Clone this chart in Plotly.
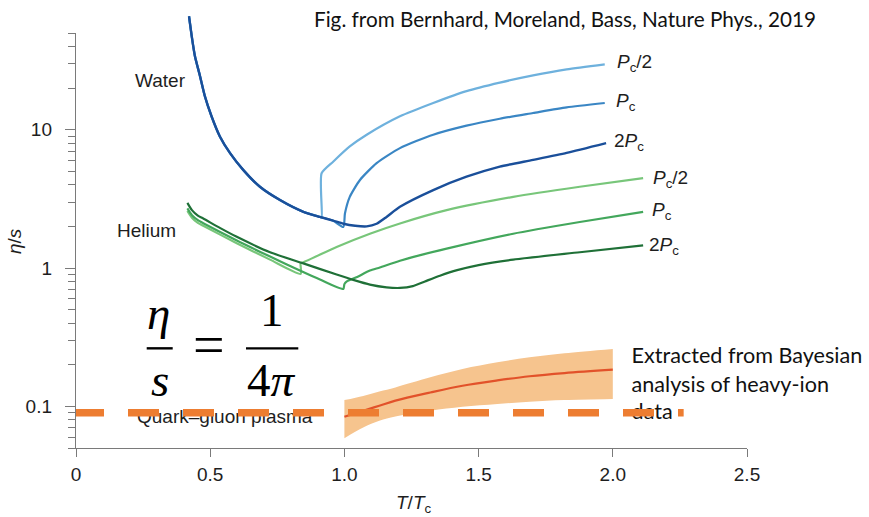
import math
import plotly.graph_objects as go

# ---------------- data ----------------
# Water: shared steep descent, then three branches
water_descent_T = [0.421, 0.431, 0.443, 0.462, 0.480, 0.505, 0.536, 0.574, 0.623, 0.685, 0.760, 0.847, 0.909]
water_descent_eta = [66.1, 47.7, 34.1, 24.4, 17.5, 12.5, 8.94, 6.77, 5.12, 3.87, 3.10, 2.55, 2.34]

water_half_T = [0.915, 0.915, 0.958, 1.020, 1.083, 1.207, 1.331, 1.455, 1.579, 1.703, 1.828, 1.970]
water_half_eta = [2.32, 4.84, 5.87, 7.57, 9.20, 12.5, 15.6, 19.0, 21.9, 24.7, 27.3, 29.7]

water_pc_T = [0.958, 0.996, 1.002, 1.020, 1.058, 1.120, 1.207, 1.331, 1.455, 1.579, 1.703, 1.828, 1.970]
water_pc_eta = [2.20, 1.98, 2.48, 3.27, 4.33, 5.73, 7.36, 9.20, 10.7, 12.0, 13.2, 14.5, 15.6]

water_2pc_T = [0.958, 0.996, 1.040, 1.083, 1.120, 1.157, 1.207, 1.331, 1.455, 1.579, 1.703, 1.828, 1.975]
water_2pc_eta = [2.20, 2.09, 2.02, 2.00, 2.09, 2.34, 2.77, 3.66, 4.57, 5.41, 6.05, 6.80, 8.00]

# Helium
helium_half_T = [0.415, 0.432, 0.454, 0.474, 0.599, 0.723, 0.837, 0.837, 0.847, 0.971, 1.095, 1.207, 1.381, 1.629, 1.877, 2.113]
helium_half_eta = [2.59, 2.31, 2.12, 2.02, 1.51, 1.15, 0.908, 1.09, 1.10, 1.42, 1.77, 2.10, 2.62, 3.27, 3.87, 4.46]

helium_pc_T = [0.415, 0.432, 0.454, 0.474, 0.599, 0.723, 0.834, 0.909, 0.996, 1.000, 1.008, 1.045, 1.095, 1.132, 1.207, 1.381, 1.629, 1.877, 2.113]
helium_pc_eta = [2.70, 2.41, 2.22, 2.11, 1.58, 1.21, 0.959, 0.825, 0.706, 0.765, 0.798, 0.857, 0.959, 1.01, 1.13, 1.38, 1.77, 2.15, 2.55]

helium_2pc_T = [0.415, 0.432, 0.454, 0.474, 0.536, 0.599, 0.723, 0.847, 0.971, 1.033, 1.095, 1.157, 1.207, 1.255, 1.300, 1.356, 1.420, 1.500, 1.629, 1.877, 2.113]
helium_2pc_eta = [2.96, 2.62, 2.39, 2.28, 1.95, 1.68, 1.30, 1.08, 0.897, 0.821, 0.759, 0.725, 0.718, 0.740, 0.800, 0.880, 0.965, 1.05, 1.15, 1.30, 1.46]

# Quark-gluon plasma (Bayesian extraction band)
qgp_T = [1.0, 1.07, 1.13, 1.19, 1.32, 1.44, 1.57, 1.69, 1.82, 2.0]
qgp_upper = [0.111, 0.119, 0.128, 0.137, 0.162, 0.186, 0.208, 0.226, 0.242, 0.260]
qgp_mid = [0.0841, 0.0929, 0.101, 0.110, 0.126, 0.141, 0.154, 0.165, 0.174, 0.184]
qgp_lower = [0.0589, 0.0703, 0.0786, 0.0845, 0.0929, 0.0993, 0.104, 0.108, 0.111, 0.113]

# KSS bound line (as drawn)
kss_T = [0.0, 2.264]
kss_eta = [0.09, 0.09]

x_tickvals = [0, 0.5, 1.0, 1.5, 2.0, 2.5]
x_ticktext = ["0", "0.5", "1.0", "1.5", "2.0", "2.5"]
y_tickvals = [0.1, 1, 10]
y_ticktext = ["0.1", "1", "10"]
y_minorvals = [0.05, 0.06, 0.07, 0.08, 0.09, 0.2, 0.3, 0.4, 0.5, 0.6, 0.7, 0.8, 0.9,
               2, 3, 4, 5, 6, 7, 8, 9, 20, 30, 40, 50]

# ---------------- styles ----------------
C_W_HALF = "#6eb1dd"
C_W_PC = "#3a86c4"
C_W_2PC = "#1a4f9a"
C_H_HALF = "#78c67a"
C_H_PC = "#43a75c"
C_H_2PC = "#1f7037"
C_BAND = "rgb(246,196,142)"
C_MID = "rgb(226,82,42)"
C_KSS = "#ED7D31"
AX = "#7a7a7a"
TXT = "#1e1e1e"
SANS = "Liberation Sans, Arial, sans-serif"
CAL = "Lato, Open Sans, sans-serif"
SERIF = "Liberation Serif, Times New Roman, serif"

fig = go.Figure()

# band + centre line
fig.add_trace(go.Scatter(x=qgp_T, y=qgp_lower, mode="lines", line=dict(width=0, shape="spline"),
                         showlegend=False, hoverinfo="skip"))
fig.add_trace(go.Scatter(x=qgp_T, y=qgp_upper, mode="lines", line=dict(width=0, shape="spline"),
                         fill="tonexty", fillcolor=C_BAND, showlegend=False, hoverinfo="skip"))
fig.add_trace(go.Scatter(x=qgp_T, y=qgp_mid, mode="lines", line=dict(color=C_MID, width=2.2, shape="spline"),
                         showlegend=False))

# text that the dashed line covers
fig.add_trace(go.Scatter(x=[0.554], y=[0.0823], mode="text", text=["Quark\u2013gluon plasma"],
                         textposition="middle center", textfont=dict(family=SANS, size=19, color=TXT),
                         cliponaxis=False, showlegend=False, hoverinfo="skip"))
fig.add_trace(go.Scatter(x=[2.07, 2.07, 2.07], y=[0.2235, 0.1400, 0.0893], mode="text",
                         text=["Extracted from Bayesian", "analysis of heavy-ion", "data"],
                         textposition="middle right", textfont=dict(family=CAL, size=21.6, color="#111"),
                         cliponaxis=False, showlegend=False, hoverinfo="skip"))

dash = "28px,24px" + ",31px,24px" * 11
fig.add_trace(go.Scatter(x=kss_T, y=kss_eta, mode="lines",
                         line=dict(color=C_KSS, width=7.5, dash=dash), showlegend=False))

# viscosity curves on an overflow axis (water curve starts above the frame)
def curve(x, y, color, w=2.2):
    fig.add_trace(go.Scatter(x=x, y=y, mode="lines",
                             line=dict(color=color, width=w, shape="spline", smoothing=0.6),
                             yaxis="y2", showlegend=False))

curve(water_descent_T + water_half_T, water_descent_eta + water_half_eta, C_W_HALF)
curve(water_descent_T + water_pc_T, water_descent_eta + water_pc_eta, C_W_PC)
curve(water_descent_T + water_2pc_T, water_descent_eta + water_2pc_eta, C_W_2PC, 2.4)
curve(helium_half_T, helium_half_eta, C_H_HALF)
curve(helium_pc_T, helium_pc_eta, C_H_PC)
curve(helium_2pc_T, helium_2pc_eta, C_H_2PC)

# ---------------- layout ----------------
H_PLOT = 517 - 12 - 69
D_TOP = 415 / H_PLOT
decade_px = 415 / 3.0
y2_top = -1.30103 + H_PLOT / decade_px

fig.update_layout(
    width=869, height=517,
    margin=dict(l=76, r=122, t=12, b=69),
    paper_bgcolor="white", plot_bgcolor="rgba(0,0,0,0)",
    showlegend=False,
    xaxis=dict(range=[0, 2.5], tickvals=x_tickvals, ticktext=x_ticktext,
               showgrid=False, zeroline=False, showline=True, linecolor=AX, linewidth=1.4,
               ticks="outside", ticklen=8, tickwidth=1.4, tickcolor=AX,
               tickfont=dict(family=SANS, size=19, color=TXT), automargin=False,
               ticklabelstandoff=1),
    yaxis=dict(type="log", range=[-1.30103, 1.69897], domain=[0, D_TOP],
               tickvals=y_tickvals, ticktext=y_ticktext,
               showgrid=False, zeroline=False, showline=True, linecolor=AX, linewidth=1.4,
               ticks="outside", ticklen=10, tickwidth=1.4, tickcolor=AX,
               minor=dict(tickvals=y_minorvals, ticks="outside", ticklen=7, tickwidth=1.2,
                          tickcolor=AX, showgrid=False),
               tickfont=dict(family=SANS, size=19, color=TXT), automargin=False,
               ticklabelstandoff=9),
    yaxis2=dict(type="log", range=[-1.30103, y2_top], domain=[0, 1], anchor="x",
                visible=False, showgrid=False, zeroline=False),
)

ann = []
# title
ann.append(dict(text="Fig. from Bernhard, Moreland, Bass, Nature Phys., 2019", xref="paper", yref="paper",
                x=0.7288, y=0.984, showarrow=False, font=dict(family=CAL, size=20.7, color="#111"),
                xanchor="center", yanchor="middle"))
# axis titles
ann.append(dict(text="<i>η</i>/<i>s</i>", xref="paper", yref="paper", x=-0.0909, y=0.4748,
                textangle=-90, showarrow=False, font=dict(family=SANS, size=19, color=TXT),
                xanchor="center", yanchor="middle"))
ann.append(dict(text="<i>T</i>/<i>T</i><sub>c</sub>", xref="paper", yref="paper", x=0.5037, y=-0.128,
                showarrow=False, font=dict(family=SANS, size=19, color=TXT),
                xanchor="center", yanchor="middle"))
# fluid names
ann.append(dict(text="Water", x=0.313, y=math.log10(22.5), xref="x", yref="y", showarrow=False,
                font=dict(family=SANS, size=19, color=TXT), xanchor="center", yanchor="middle"))
ann.append(dict(text="Helium", x=0.2645, y=math.log10(1.883), xref="x", yref="y", showarrow=False,
                font=dict(family=SANS, size=19, color=TXT), xanchor="center", yanchor="middle"))

# curve labels
def lab(text, xe, ye, xs, ys=1):
    ann.append(dict(text=text, x=xe, y=math.log10(ye), xref="x", yref="y2", showarrow=False,
                    xanchor="left", yanchor="middle", xshift=xs, yshift=ys,
                    font=dict(family=SANS, size=19, color=TXT)))

P = "<i>P</i><sub>c</sub>"
lab(P + "/2", water_half_T[-1], water_half_eta[-1], 10)
lab(P, water_pc_T[-1], water_pc_eta[-1], 9)
lab("2" + P, water_2pc_T[-1], water_2pc_eta[-1], 6)
lab(P + "/2", helium_half_T[-1], helium_half_eta[-1], 8, -1)
lab(P, helium_pc_T[-1], helium_pc_eta[-1], 7)
lab("2" + P, helium_2pc_T[-1], helium_2pc_eta[-1], 4, -1)

# η/s = 1/(4π)
def eq(text, x, y, size=47):
    ann.append(dict(text=text, x=x, y=math.log10(y), xref="x", yref="y", showarrow=False,
                    xanchor="center", yanchor="middle", font=dict(family=SERIF, size=size, color="black")))

eq("<i>η</i>", 0.309, 0.477)
eq("<i>s</i>", 0.313, 0.155)
eq("=", 0.4955, 0.2775, 56)
eq("1", 0.732, 0.50)
eq("4<i>π</i>", 0.728, 0.155)

fig.update_layout(annotations=ann)

bar_y = 0.2627
fig.add_shape(type="line", xref="x", yref="y", x0=0.2634, x1=0.3603, y0=bar_y, y1=bar_y,
              line=dict(color="black", width=2.4))
fig.add_shape(type="line", xref="x", yref="y", x0=0.6334, x1=0.8282, y0=bar_y, y1=bar_y,
              line=dict(color="black", width=2.4))

fig.write_html("out.html", config={"displayModeBar": False},
               post_script="document.body.style.margin='0';document.body.style.overflow='hidden';")
